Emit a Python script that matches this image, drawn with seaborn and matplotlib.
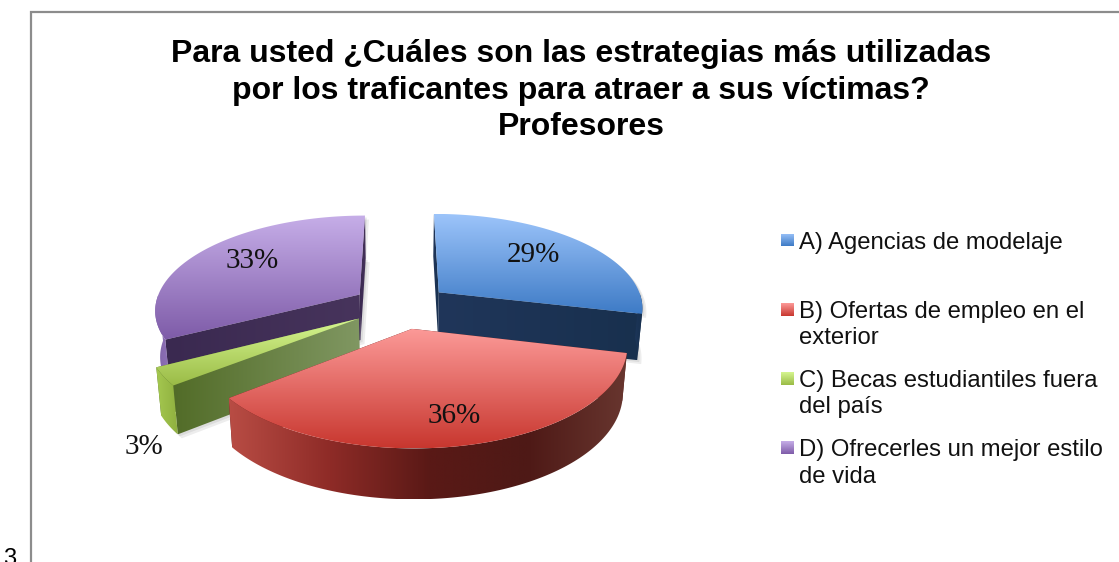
import numpy as np
import matplotlib
matplotlib.use("Agg")
import matplotlib.pyplot as plt
from matplotlib.patches import Polygon
import seaborn as sns

# datos
title_lines = ["Para usted ¿Cuáles son las estrategias más utilizadas",
               "por los traficantes para atraer a sus víctimas?",
               "Profesores"]
categories = ["A) Agencias de modelaje",
              "B) Ofertas de empleo en el\nexterior",
              "C) Becas estudiantiles fuera\ndel país",
              "D) Ofrecerles un mejor estilo\nde vida"]
values = [29, 36, 3, 33]
pct_labels = ["29%", "36%", "3%", "33%"]
explode = [0.24, 0.24, 0.24, 0.24]

# colores: cara superior, borde exterior y corte de cada porcion
top_colors = [["#9CC4FA", "#3E7BC6"], ["#FC9A98", "#C8372F"],
              ["#D6F690", "#9ABB46"], ["#C6AEE8", "#7E5BA8"]]
rim_colors = [["#1C3558", "#17304E"], ["#B84C44", "#8E2B27", "#5A1916", "#4E1916", "#68362F"],
              ["#A5C850", "#8FB03F"], ["#7F62A6", "#8F73B8"]]
cut_colors = [["#20365A", "#18304E"], ["#5A1916", "#5A1916"],
              ["#526C28", "#809762"], ["#3A2950", "#47345C"]]
label_pos = [(533, 255), (454, 416), (144, 447), (252, 261)]

sns.set_theme(style="white")
plt.rcParams["font.family"] = ["Liberation Sans", "DejaVu Sans"]

W, H = 1119, 562
fig = plt.figure(figsize=(W / 100, H / 100), dpi=100, facecolor="white")

# el pie solo da los angulos y centros de cada porcion
geo_ax = fig.add_axes([0, 0, 1, 1])
wedges, _ = geo_ax.pie(values, explode=explode, startangle=90, counterclock=False)
geo_ax.set_visible(False)

ax = fig.add_axes([0, 0, 1, 1])
ax.axis("off")

# proyeccion en perspectiva del plano del pie a pixeles
CX, CY, AX, AY, K, DEPTH = 401, 306, 205, 94, 0.15, 46


def project(x, y, low=False):
    w = 1 + K * y
    f = 0.98 if low else 1.0
    px = CX + AX * x * f / w
    py = CY - AY * y / w
    if low:
        py = py + DEPTH / np.sqrt(w)
    return np.column_stack([px, py])


def fill_gradient(pts, colors, horizontal=False):
    grad = np.array(sns.blend_palette(colors, 128))
    grad = grad.reshape(1, -1, 3) if horizontal else grad.reshape(-1, 1, 3)
    x0, y0 = pts.min(axis=0)
    x1, y1 = pts.max(axis=0)
    im = ax.imshow(grad, extent=(x0, x1, y1, y0), aspect="auto", interpolation="bilinear")
    im.set_clip_path(Polygon(pts, closed=True, transform=ax.transData))


def cut_face(cx, cy, t):
    xs = np.array([cx, cx + np.cos(t)])
    ys = np.array([cy, cy + np.sin(t)])
    return np.vstack([project(xs, ys), project(xs, ys, low=True)[::-1]])


# de atras hacia adelante
for i in [3, 0, 2, 1]:
    wd = wedges[i]
    cx, cy = wd.center
    t1, t2 = np.radians(wd.theta1), np.radians(wd.theta2)
    angs = np.linspace(t1, t2, 200)
    xs = np.r_[cx, cx + np.cos(angs)]
    ys = np.r_[cy, cy + np.sin(angs)]

    # sombra suave debajo de la porcion, zorder 0 para respetar el orden con las imagenes
    if i != 1:
        for off in (4, 2):
            ax.add_patch(Polygon(project(xs, ys, low=True) + off, closed=True, lw=0,
                                 facecolor="#000000", alpha=0.07, zorder=0))
            ax.add_patch(Polygon(project(xs, ys) + off, closed=True, lw=0,
                                 facecolor="#000000", alpha=0.07, zorder=0))

    faces = sorted([t1, t2], key=lambda t: -(cy + 0.5 * np.sin(t)))
    for t in faces:
        fill_gradient(cut_face(cx, cy, t), cut_colors[i], horizontal=True)

    front = angs[np.sin(angs) < 0]
    if len(front) > 1:
        rx, ry = cx + np.cos(front), cy + np.sin(front)
        rim = np.vstack([project(rx, ry), project(rx, ry, low=True)[::-1]])
        fill_gradient(rim, rim_colors[i], horizontal=True)

    fill_gradient(project(xs, ys), top_colors[i])

for lab, (px, py) in zip(pct_labels, label_pos):
    ax.text(px, py, lab, ha="center", va="center", fontsize=21,
            family="Liberation Serif", color="#111111")

# leyenda
for i, cat in enumerate(categories):
    y = 240 + i * 69.2
    sw = np.array([[781, y - 6.5], [794, y - 6.5], [794, y + 6.5], [781, y + 6.5]])
    fill_gradient(sw, top_colors[i])
    ax.text(799, y - 8.5, cat, ha="left", va="top", fontsize=17.2,
            linespacing=1.26, color="#111111")

# titulo
for i, line in enumerate(title_lines):
    ax.text(581, 54 + i * 36.5, line, ha="center", va="center", fontsize=23,
            fontweight="bold", color="black")

# marco del grafico y resto de la pagina
ax.plot([31, 31, W], [H, 12, 12], color="#8C8C8C", lw=1.6, solid_joinstyle="miter")
ax.text(3, 548, "3", ha="left", va="top", fontsize=17, color="black")

ax.set_xlim(0, W)
ax.set_ylim(H, 0)
fig.savefig("out.png", dpi=100)
